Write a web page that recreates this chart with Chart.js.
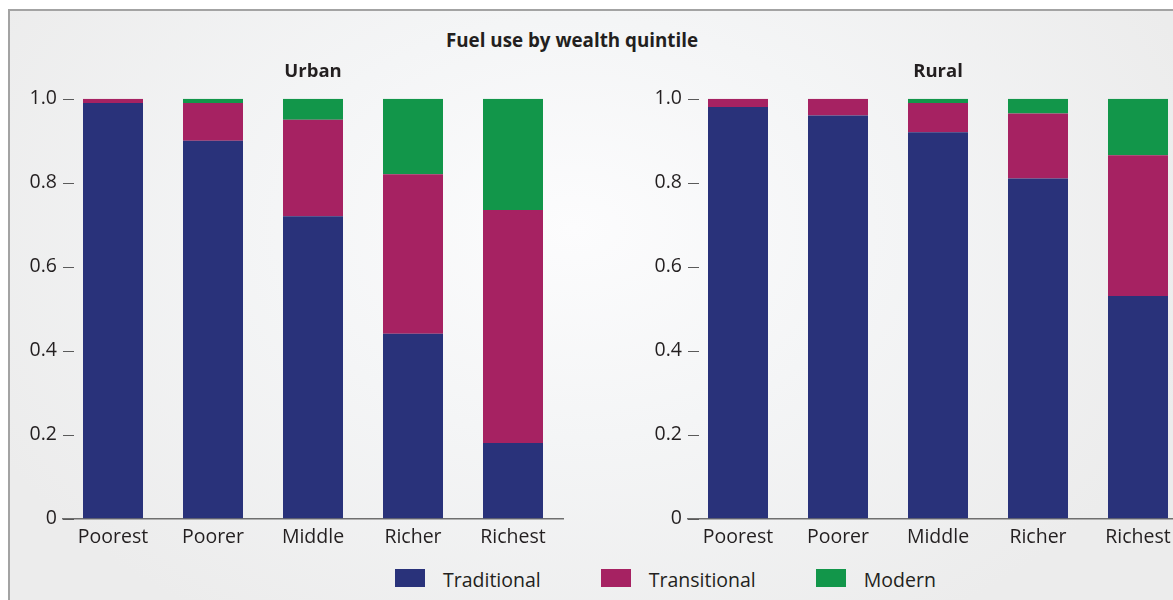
<!DOCTYPE html>
<html>
<head>
<meta charset="utf-8">
<script src="https://cdn.jsdelivr.net/npm/chart.js@4/dist/chart.umd.min.js"></script>
<style>
  html, body { margin: 0; padding: 0; width: 1173px; height: 600px; overflow: hidden; background: #fff; font-family: "Open Sans", sans-serif; }
  #frame { position: absolute; left: 8px; top: 9px; width: 1200px; height: 620px; border-left: 2px solid #a3a3a3; border-top: 2px solid #a3a3a3;
    background: radial-gradient(ellipse 55% 75% at 47% 35%, #fcfcfd 0%, #f4f5f6 45%, #ececec 100%); }
  #title { position: absolute; top: 27px; left: 422px; width: 300px; text-align: center; white-space: nowrap; font-weight: bold; font-size: 18.8px; color: #231f20; }
  .wrap { position: absolute; top: 0; width: 580px; height: 560px; }
  #urbanWrap { left: 0; }
  #ruralWrap { left: 625px; }
  #legend { position: absolute; top: 569px; left: 395px; display: flex; align-items: flex-start; height: 18px; font-size: 19.5px; color: #231f20; white-space: nowrap; }
  #legend .box { display: inline-block; width: 30px; height: 18px; margin-right: 18px; }
  #legend .lbl { margin-right: 60px; line-height: 22px; margin-top: 0px; }
</style>
</head>
<body>
<div id="frame"></div>
<div id="title">Fuel use by wealth quintile</div>
<div class="wrap" id="urbanWrap"><canvas id="urban"></canvas></div>
<div class="wrap" id="ruralWrap"><canvas id="rural"></canvas></div>
<div id="legend"></div>
<script>
const quintiles = ["Poorest", "Poorer", "Middle", "Richer", "Richest"];
const seriesNames = ["Traditional", "Transitional", "Modern"];
const seriesColors = ["#29327a", "#a62262", "#12964a"];

const urbanTraditional = [0.99, 0.90, 0.72, 0.44, 0.18];
const urbanTransitional = [0.01, 0.09, 0.23, 0.38, 0.555];
const urbanModern = [0, 0.01, 0.05, 0.18, 0.265];

const ruralTraditional = [0.98, 0.96, 0.92, 0.81, 0.53];
const ruralTransitional = [0.02, 0.04, 0.07, 0.155, 0.335];
const ruralModern = [0, 0, 0.01, 0.035, 0.135];

const yTicks = [0, 0.2, 0.4, 0.6, 0.8, 1.0];

const textColor = "#231f20";
const font = "'Open Sans', sans-serif";

// short tick dashes drawn just inside the plot, like the original
const tickDashes = {
  id: "tickDashes",
  afterDatasetsDraw(chart) {
    const { ctx, chartArea, scales } = chart;
    ctx.save();
    ctx.strokeStyle = "#5a5a5a";
    ctx.lineWidth = 1;
    scales.y.ticks.forEach((t) => {
      const y = Math.round(scales.y.getPixelForValue(t.value)) + 0.5;
      ctx.beginPath();
      ctx.moveTo(chartArea.left, y);
      ctx.lineTo(chartArea.left + 11, y);
      ctx.stroke();
    });
    ctx.restore();
  },
};

const makeChart = (id, title, series) => {
  new Chart(document.getElementById(id), {
    type: "bar",
    data: {
      labels: quintiles,
      datasets: series.map((data, i) => ({
        label: seriesNames[i],
        data: data,
        backgroundColor: seriesColors[i],
        borderWidth: 0,
        barPercentage: 0.6,
        categoryPercentage: 1,
      })),
    },
    options: {
      responsive: true,
      maintainAspectRatio: false,
      animation: false,
      layout: { padding: { left: 0, right: 17, top: 0, bottom: 0 } },
      plugins: {
        legend: { display: false },
        tooltip: { enabled: false },
        title: {
          display: true,
          text: title,
          fullSize: false,
          color: textColor,
          font: { family: font, size: 18.5, weight: "bold", lineHeight: 1.2 },
          padding: { top: 61, bottom: 15.5 },
        },
      },
      scales: {
        x: {
          stacked: true,
          grid: { display: false, drawTicks: false },
          border: { display: true, color: "#6f6f6f", width: 1.5 },
          ticks: { color: textColor, font: { family: font, size: 19.5 }, padding: 7, maxRotation: 0 },
          afterFit: (s) => { s.height = 41.5; },
        },
        y: {
          stacked: true,
          min: 0,
          max: 1,
          grid: { display: false, drawTicks: false },
          border: { display: false },
          ticks: {
            color: textColor,
            font: { family: font, size: 19.5 },
            padding: 6,
            callback: (v) => (v === 0 ? "0" : Number(v).toFixed(1)),
          },
          afterBuildTicks: (s) => { s.ticks = yTicks.map((v) => ({ value: v })); },
          afterFit: (s) => { s.width = 63; },
        },
      },
    },
    plugins: [tickDashes],
  });
};

makeChart("urban", "Urban", [urbanTraditional, urbanTransitional, urbanModern]);
makeChart("rural", "Rural", [ruralTraditional, ruralTransitional, ruralModern]);

const legend = document.getElementById("legend");
seriesNames.forEach((name, i) => {
  const box = document.createElement("span");
  box.className = "box";
  box.style.background = seriesColors[i];
  const lbl = document.createElement("span");
  lbl.className = "lbl";
  lbl.textContent = name;
  legend.appendChild(box);
  legend.appendChild(lbl);
});
</script>
</body>
</html>
